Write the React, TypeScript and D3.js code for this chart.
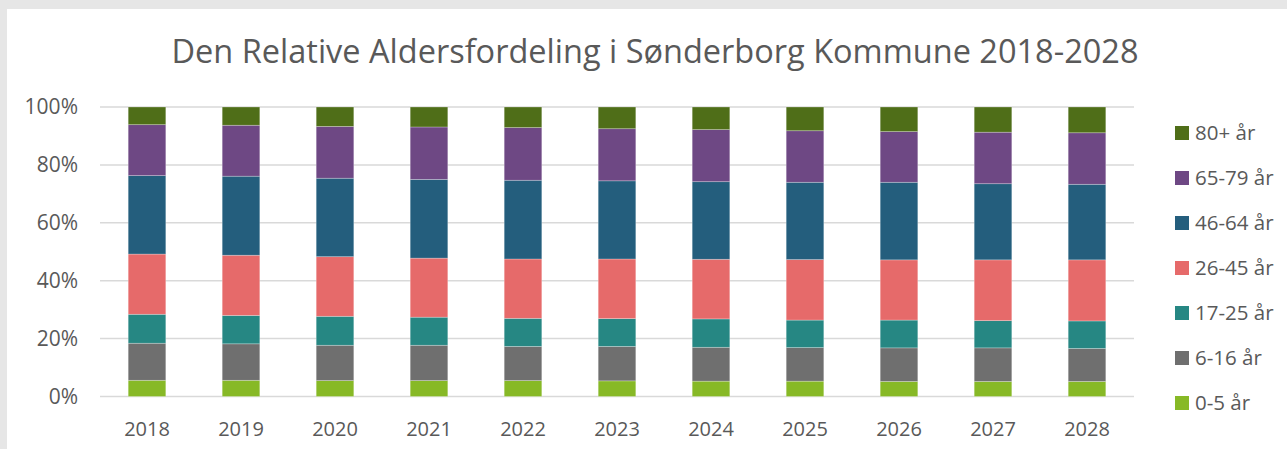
import React, { useEffect, useRef } from 'react';
import * as d3 from 'd3';

const years = ['2018', '2019', '2020', '2021', '2022', '2023', '2024', '2025', '2026', '2027', '2028'];
const groups = ['0-5 år', '6-16 år', '17-25 år', '26-45 år', '46-64 år', '65-79 år', '80+ år'];
const colors = ['#87b926', '#6f6f6f', '#268783', '#e66a6a', '#245e7d', '#6e4884', '#4f6e18'];

// shares in percent, one array per age group (2018..2028)
const age0to5 = [5.6, 5.6, 5.5, 5.5, 5.5, 5.4, 5.3, 5.3, 5.2, 5.2, 5.2];
const age6to16 = [12.8, 12.6, 12.2, 12.2, 11.8, 11.9, 11.7, 11.6, 11.6, 11.6, 11.4];
const age17to25 = [10.0, 9.8, 10.0, 9.7, 9.7, 9.6, 9.8, 9.5, 9.6, 9.4, 9.5];
const age26to45 = [20.8, 20.8, 20.6, 20.4, 20.5, 20.6, 20.6, 20.9, 20.8, 21.0, 21.1];
const age46to64 = [27.1, 27.3, 27.1, 27.2, 27.2, 27.0, 26.8, 26.7, 26.8, 26.3, 26.1];
const age65to79 = [17.6, 17.6, 17.9, 18.1, 18.2, 18.0, 18.0, 17.8, 17.5, 17.8, 17.8];
const age80plus = [6.1, 6.3, 6.7, 6.9, 7.1, 7.5, 7.8, 8.2, 8.5, 8.7, 8.9];

const series = [age0to5, age6to16, age17to25, age26to45, age46to64, age65to79, age80plus];
const yTicks = [0, 0.2, 0.4, 0.6, 0.8, 1];

const W = 1287;
const H = 449;
const FONT = "'Open Sans', sans-serif";

function App() {
	const svgRef = useRef<SVGSVGElement>(null);

	useEffect(() => {
		const svg = d3.select(svgRef.current);
		svg.selectAll('*').remove();

		// grey frame as in the screenshot
		svg.append('rect').attr('width', W).attr('height', H).attr('fill', '#e6e6e6');
		svg.append('rect').attr('x', 7).attr('y', 9).attr('width', W - 7).attr('height', H - 9).attr('fill', '#fff');

		const rows = years.map((yr, i) => {
			const row: any = { year: yr };
			groups.forEach((g, j) => { row[g] = series[j][i]; });
			return row;
		});

		const stacked = d3.stack().keys(groups).offset(d3.stackOffsetExpand)(rows);

		const x = d3.scaleBand().domain(years).range([100, 1134]).paddingInner(0.6).paddingOuter(0.3);
		const y = d3.scaleLinear().domain([0, 1]).range([396.5, 107]);

		svg.append('text')
			.attr('x', 655)
			.attr('y', 63)
			.attr('text-anchor', 'middle')
			.attr('font-family', FONT)
			.attr('font-size', 32.5)
			.attr('fill', '#595959')
			.text('Den Relative Aldersfordeling i Sønderborg Kommune 2018-2028');

		const grid = svg.append('g');
		grid.selectAll('line')
			.data(yTicks)
			.enter()
			.append('line')
			.attr('x1', 100)
			.attr('x2', 1134)
			.attr('y1', d => y(d))
			.attr('y2', d => y(d))
			.attr('stroke', '#d9d9d9')
			.attr('stroke-width', 1.5);

		grid.selectAll('text')
			.data(yTicks)
			.enter()
			.append('text')
			.attr('x', 78)
			.attr('y', d => y(d))
			.attr('dy', '0.35em')
			.attr('text-anchor', 'end')
			.attr('font-family', FONT)
			.attr('font-size', 21)
			.attr('fill', '#595959')
			.text(d => d3.format('.0%')(d));

		const layers = svg.append('g')
			.selectAll('g')
			.data(stacked)
			.enter()
			.append('g')
			.attr('fill', (d, i) => colors[i]);

		layers.selectAll('rect')
			.data(d => d)
			.enter()
			.append('rect')
			.attr('x', (d: any) => x(d.data.year)!)
			.attr('width', x.bandwidth())
			.attr('y', d => y(d[1]))
			.attr('height', d => y(d[0]) - y(d[1]))
			.attr('stroke', 'rgba(255,255,255,0.35)')
			.attr('stroke-width', 0.75);

		svg.append('g')
			.selectAll('text')
			.data(years)
			.enter()
			.append('text')
			.attr('x', d => x(d)! + x.bandwidth() / 2)
			.attr('y', 436)
			.attr('text-anchor', 'middle')
			.attr('font-family', FONT)
			.attr('font-size', 20)
			.attr('fill', '#595959')
			.text(d => d);

		const legendItems = groups.map((g, i) => ({ g, c: colors[i] })).reverse();
		const legend = svg.append('g')
			.selectAll('g')
			.data(legendItems)
			.enter()
			.append('g')
			.attr('transform', (d, i) => `translate(1175,${133 + i * 45})`);

		legend.append('rect')
			.attr('y', -7)
			.attr('width', 14)
			.attr('height', 14)
			.attr('fill', d => d.c);

		legend.append('text')
			.attr('x', 20)
			.attr('dy', '0.35em')
			.attr('font-family', FONT)
			.attr('font-size', 20.5)
			.attr('fill', '#595959')
			.text(d => d.g);
	}, []);

	return (
		<div style={{ position: 'absolute', left: 0, top: 0 }}>
			<svg ref={svgRef} width={W} height={H} style={{ display: 'block' }}></svg>
		</div>
	);
}

export default App;
